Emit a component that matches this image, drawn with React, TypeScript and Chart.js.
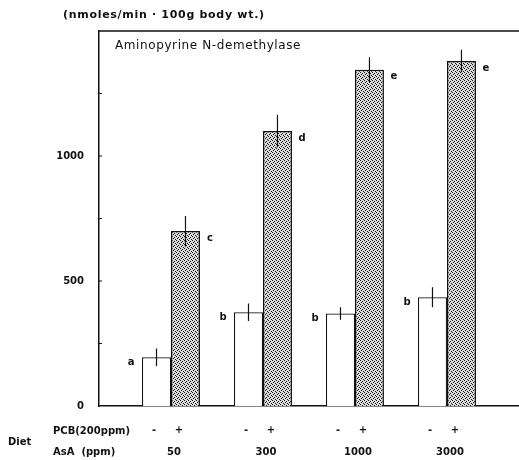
import React, { useEffect, useRef } from "react";
import { Chart, registerables } from "chart.js";

Chart.register(...registerables);

const groupPositions = [1, 2, 3, 4];
const asaLabels = ["50", "300", "1000", "3000"];
const controlValues = [195, 375, 370, 435];
const controlErrors = [35, 35, 25, 40];
const controlLetters = ["a", "b", "b", "b"];
const pcbValues = [700, 1100, 1345, 1380];
const pcbErrors = [60, 65, 50, 45];
const pcbLetters = ["c", "d", "e", "e"];
const yTickLabels = [0, 500, 1000];

const FONT = "'DejaVu Sans', sans-serif";

function makePattern(): CanvasPattern | string {
  const c = document.createElement("canvas");
  c.width = 4;
  c.height = 4;
  const g = c.getContext("2d");
  if (!g) return "#aaa";
  g.fillStyle = "#dcdcdc";
  g.fillRect(0, 0, 4, 4);
  g.fillStyle = "#111";
  g.fillRect(0, 0, 1, 1);
  g.fillRect(2, 1, 1, 1);
  g.fillRect(1, 2, 1, 1);
  g.fillRect(3, 3, 1, 1);
  const p = g.createPattern(c, "repeat");
  return p || "#aaa";
}

export default function App() {
  const ref = useRef<HTMLCanvasElement>(null);
  useEffect(() => {
    if (!ref.current) return;
    const pattern = makePattern();
    const overlay = {
      id: "overlay",
      afterDatasetsDraw(chart: any) {
        const ctx = chart.ctx;
        const area = chart.chartArea;
        const xs = chart.scales.x;
        const ys = chart.scales.y;
        ctx.save();
        ctx.strokeStyle = "#111";
        ctx.lineWidth = 1.5;
        // top frame line
        ctx.beginPath();
        ctx.moveTo(area.left, area.top);
        ctx.lineTo(area.right, area.top);
        ctx.stroke();
        // inner ticks
        ctx.lineWidth = 1;
        for (let v = 250; v < 1500; v += 250) {
          const y = ys.getPixelForValue(v);
          ctx.beginPath();
          ctx.moveTo(area.left, y);
          ctx.lineTo(area.left + 3, y);
          ctx.stroke();
        }
        // error bars and letters
        ctx.fillStyle = "#111";
        ctx.font = `bold 10px ${FONT}`;
        ctx.textBaseline = "middle";
        const sets = [
          { vals: controlValues, errs: controlErrors, letters: controlLetters, side: -1 },
          { vals: pcbValues, errs: pcbErrors, letters: pcbLetters, side: 1 },
        ];
        sets.forEach((s, di) => {
          const meta = chart.getDatasetMeta(di);
          meta.data.forEach((bar: any, i: number) => {
            const x = bar.x;
            const yHi = ys.getPixelForValue(s.vals[i] + s.errs[i]);
            const yLo = ys.getPixelForValue(s.vals[i] - s.errs[i]);
            ctx.lineWidth = 1.2;
            ctx.beginPath();
            ctx.moveTo(x, yHi);
            ctx.lineTo(x, yLo);
            ctx.stroke();
            const half = bar.width / 2;
            const top = ys.getPixelForValue(s.vals[i]);
            ctx.textAlign = "center";
            if (s.side < 0) ctx.fillText(s.letters[i], x - half - 11, top + 5);
            else ctx.fillText(s.letters[i], x + half + 10, top + 7);
          });
        });
        // unit + title
        ctx.textAlign = "left";
        ctx.font = `bold 11px ${FONT}`;
        (ctx as any).letterSpacing = "0.7px";
        ctx.fillText("(nmoles/min \u00b7 100g body wt.)", 63, 15);
        ctx.font = `12px ${FONT}`;
        (ctx as any).letterSpacing = "0.6px";
        ctx.fillText("Aminopyrine N-demethylase", 115, 46);
        (ctx as any).letterSpacing = "0px";
        // diet rows
        ctx.font = `bold 10px ${FONT}`;
        ctx.fillText("PCB(200ppm)", 53, 431);
        ctx.fillText("AsA  (ppm)", 53, 452);
        ctx.fillText("Diet", 8, 442);
        ctx.textAlign = "center";
        groupPositions.forEach((g, i) => {
          const cx = xs.getPixelForValue(g);
          ctx.fillText("-", cx - 17, 430);
          ctx.fillText("+", cx + 8, 430);
          ctx.fillText(asaLabels[i], cx + 3, 452);
        });
        ctx.restore();
      },
    };
    const chart = new Chart(ref.current, {
      type: "bar",
      data: {
        datasets: [
          {
            label: "PCB -",
            data: groupPositions.map((x, i) => ({ x, y: controlValues[i] })),
            backgroundColor: "#ffffff",
            borderColor: "#111",
            borderWidth: 1.2,
          },
          {
            label: "PCB +",
            data: groupPositions.map((x, i) => ({ x, y: pcbValues[i] })),
            backgroundColor: pattern as any,
            borderColor: "#111",
            borderWidth: 1.5,
          },
        ],
      },
      options: {
        responsive: false,
        animation: false,
        layout: { padding: { top: 31, left: 0, right: 0, bottom: 0 } },
        categoryPercentage: 0.63,
        barPercentage: 1,
        plugins: { legend: { display: false }, tooltip: { enabled: false } },
        scales: {
          x: {
            type: "linear",
            offset: false,
            min: 0.2174,
            max: 4.783,
            ticks: { display: false, stepSize: 100 },
            grid: { display: false },
            border: { display: true, color: "#111", width: 1.5 },
            afterFit: (s: any) => {
              s.height = 54;
            },
          },
          y: {
            min: 0,
            max: 1500,
            ticks: {
              stepSize: 250,
              padding: 15,
              color: "#111",
              font: { family: FONT, size: 10, weight: "bold" },
              callback: (v: any) => (yTickLabels.includes(Number(v)) ? String(v) : ""),
            },
            grid: { display: false, drawTicks: false },
            border: { display: true, color: "#111", width: 1.5 },
            afterFit: (s: any) => {
              s.width = 99;
            },
          },
        },
      } as any,
      plugins: [overlay],
    });
    return () => chart.destroy();
  }, []);
  return (
    <div style={{ position: "absolute", left: 0, top: 0, width: 519, height: 460, background: "#fff" }}>
      <canvas ref={ref} width={519} height={460} style={{ width: 519, height: 460, display: "block" }} />
    </div>
  );
}
